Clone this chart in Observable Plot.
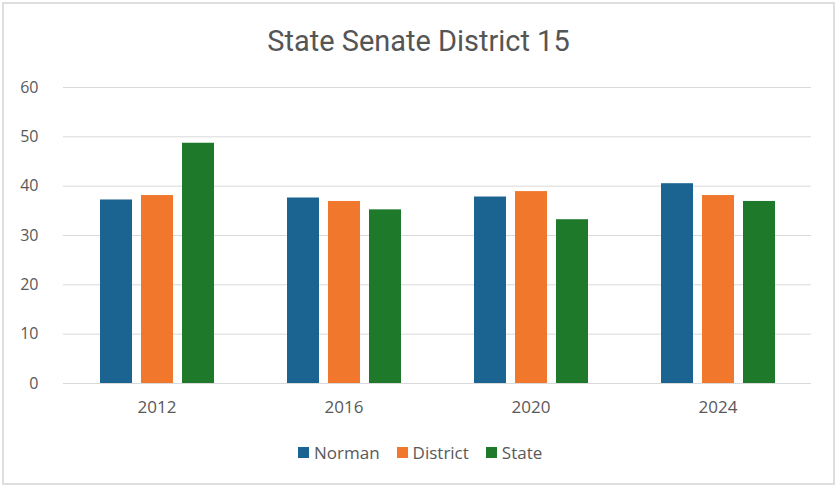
<!DOCTYPE html>
<html>
<head>
<meta charset="utf-8">
<script src="https://cdn.jsdelivr.net/npm/d3@7"></script>
<script src="https://cdn.jsdelivr.net/npm/@observablehq/plot@0.6"></script>
<style>
  html, body { margin: 0; padding: 0; background: #fff; }
  #wrap { position: relative; width: 837px; height: 487px; overflow: hidden; background: #fff; }
  #frame { position: absolute; left: 2px; top: 2px; width: 829px; height: 479px; border: 2px solid #dedede; box-sizing: content-box; }
  #title { position: absolute; left: 0; top: 22px; width: 837px; text-align: center; line-height: 38px;
           font-family: "Roboto", sans-serif; font-size: 30px; color: #555; transform: scaleX(0.965); }
  #chart { position: absolute; left: 0; top: 0; }
  #legend { position: absolute; left: 298px; top: 440px; height: 24px; display: flex; align-items: center;
            font-family: "Open Sans", "Liberation Sans", sans-serif; font-size: 17px; color: #595959; }
  .item { display: flex; align-items: center; margin-right: 17px; }
  .sw { width: 11px; height: 11px; margin-right: 5px; }
</style>
</head>
<body>
<div id="wrap">
  <div id="frame"></div>
  <div id="chart"></div>
  <div id="title">State Senate District 15</div>
  <div id="legend"></div>
</div>
<script>
const years = ["2012", "2016", "2020", "2024"];
const seriesNames = ["Norman", "District", "State"];
const norman = [37.2, 37.6, 37.8, 40.5];
const district = [38.1, 36.9, 38.9, 38.1];
const state = [48.7, 35.2, 33.2, 36.9];
const colors = ["#1B6391", "#F0772C", "#1E7A2A"];
const yTicks = [0, 10, 20, 30, 40, 50, 60];

const seriesValues = [norman, district, state];
const data = [];
years.forEach((yr, i) => {
  seriesNames.forEach((s, j) => {
    data.push({year: yr, series: s, value: seriesValues[j][i]});
  });
});

const plot = Plot.plot({
  width: 837,
  height: 430,
  marginTop: 87,
  marginBottom: 47,
  marginLeft: 63,
  marginRight: 26,
  style: {background: "transparent", fontFamily: "'Open Sans', 'Liberation Sans', sans-serif", color: "#595959"},
  fx: {domain: years, padding: 0, label: null, axis: "bottom", tickSize: 0, tickPadding: 17},
  x: {domain: seriesNames, paddingInner: 0.22, paddingOuter: 0.89, axis: null},
  y: {domain: [0, 60], ticks: yTicks, label: null, tickSize: 0, tickPadding: 25},
  color: {domain: seriesNames, range: colors},
  marks: [
    Plot.ruleY(yTicks, {stroke: "#d9d9d9", strokeWidth: 1}),
    Plot.barY(data, {fx: "year", x: "series", y: "value", fill: "series"})
  ]
});
plot.querySelectorAll("g[aria-label='y-axis tick label']").forEach(n => n.setAttribute("font-size", "16"));
plot.querySelectorAll("g[aria-label='fx-axis tick label']").forEach(n => n.setAttribute("font-size", "17"));
document.getElementById("chart").appendChild(plot);

const legend = document.getElementById("legend");
seriesNames.forEach((s, j) => {
  const item = document.createElement("div");
  item.className = "item";
  const sw = document.createElement("div");
  sw.className = "sw";
  sw.style.background = colors[j];
  const t = document.createElement("span");
  t.textContent = s;
  item.appendChild(sw);
  item.appendChild(t);
  legend.appendChild(item);
});
</script>
</body>
</html>
